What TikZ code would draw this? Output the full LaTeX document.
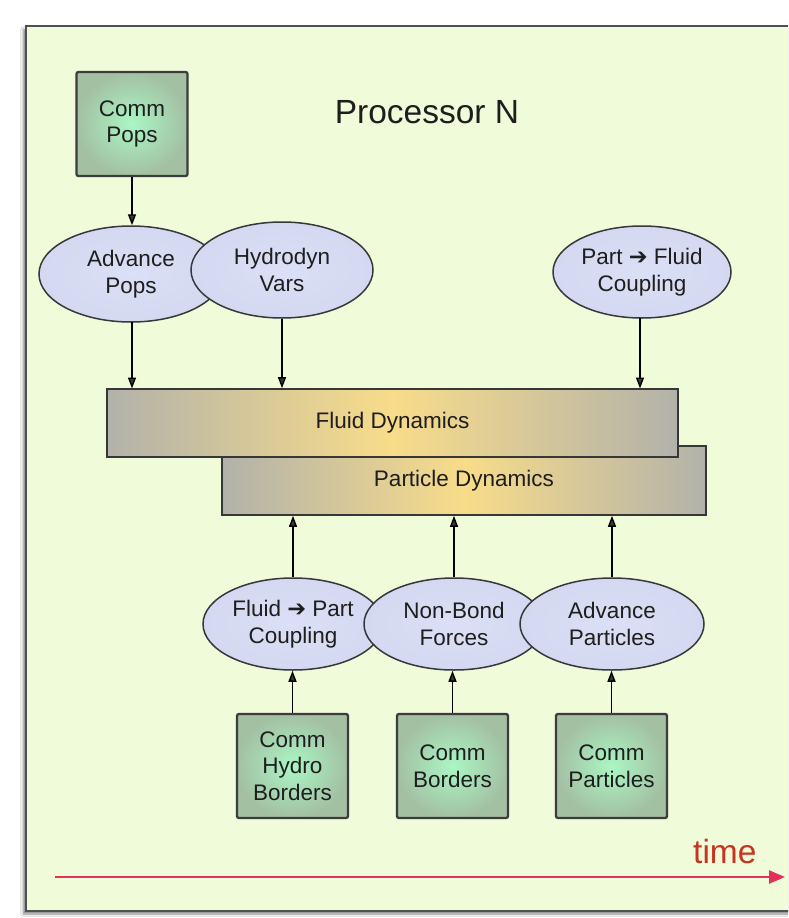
\documentclass[tikz,border=0pt]{standalone}
\usepackage{fontspec}
\setmainfont{Liberation Sans}
\newfontfamily\arrowfont{DejaVu Sans}
\usetikzlibrary{shapes.geometric,arrows.meta,shadows.blur}
\definecolor{bgc}{RGB}{239,251,217}
\definecolor{framec}{RGB}{80,80,80}
\definecolor{boxin}{RGB}{170,246,196}
\definecolor{boxout}{RGB}{163,192,163}
\definecolor{boxline}{RGB}{60,60,60}
\definecolor{ellfill}{RGB}{212,216,240}
\definecolor{ellin}{RGB}{220,224,246}
\definecolor{ellline}{RGB}{55,55,60}
\definecolor{bargrey}{RGB}{178,178,170}
\definecolor{baryellow}{RGB}{248,220,138}
\definecolor{barline}{RGB}{55,55,55}
\definecolor{txt}{RGB}{30,30,30}
\definecolor{timetxt}{RGB}{200,52,31}
\definecolor{timeline}{RGB}{226,48,88}
\newcommand{\rarrow}{{\arrowfont\bfseries ➔}}
\begin{document}
\begin{tikzpicture}[x=1pt,y=-1pt,
  lbl/.style={font=\fontsize{22.5}{26.5}\selectfont, text=txt, align=center},
  commbox/.style={lbl, draw=boxline, line width=2.3pt, rounded corners=2pt,
    inner color=boxin, outer color=boxout, minimum width=111pt, minimum height=104pt, inner sep=0pt},
  task/.style={lbl, ellipse, draw=ellline, line width=1.5pt, inner color=ellin, outer color=ellfill,
    minimum width=180pt, minimum height=95pt, inner sep=0pt},
  bar/.style={lbl, draw=barline, line width=1.6pt, left color=bargrey, right color=bargrey,
    middle color=baryellow, inner sep=0pt},
  arr/.style={line width=1.4pt, -{Triangle[length=11pt,width=8pt]}}]
\useasboundingbox (0,0) rectangle (788,918);
\clip (0,0) rectangle (788,918);
% frame
\path[fill=white] (0,0) rectangle (788,918);
\draw[framec, line width=2.4pt, fill=bgc, blur shadow={shadow xshift=-3pt, shadow yshift=-3pt, shadow blur steps=6, shadow opacity=45}]
  (26,26) rectangle (830,911);
\node[font=\fontsize{33.5}{38}\selectfont, text=txt] (title) at (427,112) {Processor N};
% top
\node[commbox] (cpops) at (132,124) {Comm\\Pops};
\node[task, minimum width=184pt, minimum height=96pt] (apops) at (131,274) {Advance\\Pops};
\node[task, minimum width=182pt, minimum height=96pt] (hvars) at (282,270) {Hydrodyn\\Vars};
\node[task, minimum width=178pt, minimum height=92pt] (pfc) at (642,272) {Part \rarrow\ Fluid\\Coupling};
% bars
\node[bar, minimum width=484pt, minimum height=69pt] (part) at (464,480.5) {Particle Dynamics};
\node[bar, minimum width=571pt, minimum height=68pt] (fluid) at (392.5,423) {Fluid Dynamics};
% bottom ellipses
\node[task, minimum width=180pt, minimum height=92pt] (fpc) at (293,624) {Fluid \rarrow\ Part\\Coupling};
\node[task, minimum width=180pt, minimum height=92pt] (nbf) at (454,624) {Non-Bond\\Forces};
\node[task, minimum width=184pt, minimum height=92pt] (apart) at (612,624) {Advance\\Particles};
% bottom boxes
\node[commbox] (chb) at (292.5,766) {Comm\\Hydro\\Borders};
\node[commbox] (cb) at (452.5,766) {Comm\\Borders};
\node[commbox] (cp) at (611.5,766) {Comm\\Particles};
% arrows
\draw[arr] (cpops.south) -- (cpops.south |- apops.north);
\draw[arr] (132,322) -- (132,388.5);
\draw[arr] (hvars.south) -- (hvars.south |- fluid.north);
\draw[arr] (640,318) -- (640,388.5);
\draw[arr] (fpc.north) -- (fpc.north |- part.south);
\draw[arr] (nbf.north) -- (nbf.north |- part.south);
\draw[arr] (apart.north) -- (apart.north |- part.south);
\draw[arr] (chb.north) -- (chb.north |- fpc.south);
\draw[arr] (cb.north) -- (cb.north |- nbf.south);
\draw[arr] (cp.north) -- (cp.north |- apart.south);
% time
\coordinate (t0) at (55,877);
\coordinate (t1) at (785,877);
\draw[timeline, line width=2.4pt, -{Triangle[length=16pt,width=13pt]}] (t0) -- (t1);
\node[font=\fontsize{33.5}{38}\selectfont, text=timetxt, anchor=base east] (time) at (760,863) {time};
\end{tikzpicture}
\end{document}
